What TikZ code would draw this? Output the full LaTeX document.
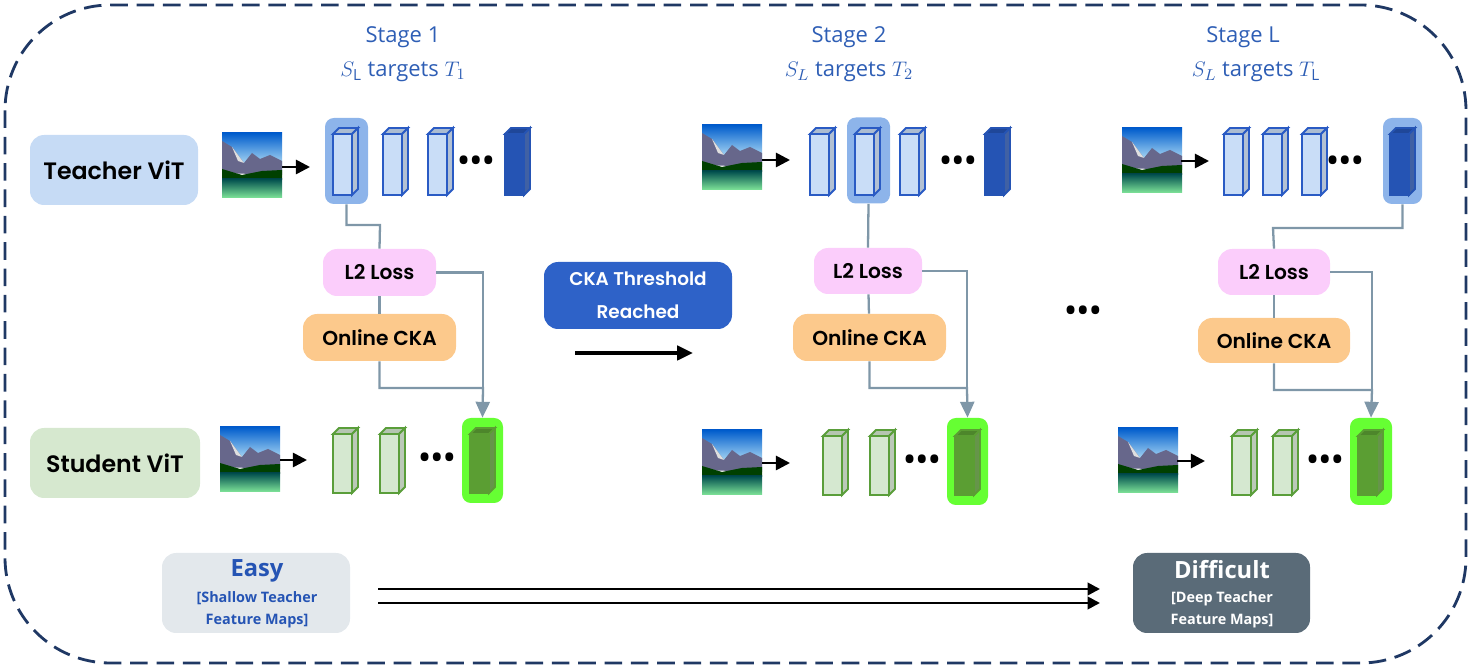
\documentclass[tikz,border=0pt]{standalone}
\usepackage{fontspec}
\setmainfont{Open Sans}
\newfontfamily\popb{Poppins}[UprightFont=* SemiBold]
\usetikzlibrary{arrows.meta}
\definecolor{navy}{HTML}{1F3864}
\definecolor{ttl}{HTML}{2E5EB5}
\definecolor{conn}{HTML}{7F97A8}
\definecolor{lb}{HTML}{C9DDF7}
\definecolor{lbd}{HTML}{2A5BC4}
\definecolor{db}{HTML}{2554B4}
\definecolor{lg}{HTML}{D5E8D0}
\definecolor{lgd}{HTML}{5A9E3A}
\definecolor{dg}{HTML}{5B9E33}
\definecolor{tvb}{HTML}{C6DBF5}
\definecolor{svb}{HTML}{D6E8CF}
\definecolor{easyb}{HTML}{E3E8EC}
\definecolor{diffb}{HTML}{5A6B78}
\definecolor{hlb}{HTML}{8DB4EA}
\definecolor{hlg}{HTML}{66FF33}
\definecolor{pinkb}{HTML}{FBCDFB}
\definecolor{orb}{HTML}{FCC98C}
\definecolor{ckab}{HTML}{2E62C8}
\newcommand\cuboid[6]{%
 \fill[#5,draw=#6,line width=1.1pt] (#1,{#2+6}) rectangle ({#1+#3-6},{#2+#4});
 \fill[#5!85!black,draw=#6,line width=1.1pt] (#1,{#2+6})--({#1+6},#2)--({#1+#3},#2)--({#1+#3-6},{#2+6})--cycle;
 \fill[#5!70!gray,draw=#6,line width=1.1pt] ({#1+#3-6},{#2+6})--({#1+#3},#2)--({#1+#3},{#2+#4-6})--({#1+#3-6},{#2+#4})--cycle;}
\newcommand\tcube[2]{\cuboid{#1}{#2}{25}{67}{lb}{lbd}}
\newcommand\dcube[2]{\cuboid{#1}{#2}{25}{67}{db}{db}}
\newcommand\gcube[2]{\cuboid{#1}{#2}{25}{65}{lg}{lgd}}
\newcommand\ggcube[2]{\cuboid{#1}{#2}{25}{65}{dg}{dg}}
\newcommand\landscape[2]{%
 \begin{scope}[shift={(#1,#2)}]
 \clip (0,0) rectangle (60,65);
 \shade[top color=blue!55!cyan!80!black,bottom color=blue!10!cyan!15] (0,0) rectangle (60,40);
 \fill[gray!60!blue!50!black!70] (0,40)--(0,8)--(10,14)--(22,30)--(30,20)--(38,26)--(48,22)--(60,28)--(60,42)--cycle;
 \fill[white!75!gray] (10,14)--(22,30)--(16,28)--cycle;
 \fill[green!25!black] (0,47)--(0,36)--(20,42)--(40,38)--(60,37)--(60,47)--cycle;
 \shade[top color=teal!60!black,bottom color=teal!40!green!50] (0,46) rectangle (60,65);
 \end{scope}}
\tikzset{
 conn/.style={draw=conn,line width=1.3pt},
 carr/.style={conn,-{Triangle[length=9pt,width=8pt]}},
 bx/.style={rounded corners=8pt,font=\popb\fontsize{11.5}{13}\selectfont,inner sep=0pt},
 ttl/.style={text=ttl,font=\fontsize{12.5}{14}\selectfont},
 blk/.style={line width=1.5pt,-{Triangle[length=8pt,width=8pt]}},
 dts/.style={font=\bfseries\fontsize{16}{16}\selectfont,inner sep=0pt},
}
\newcommand\dd{•\kern1pt•\kern1pt•}
\begin{document}
\begin{tikzpicture}[x=0.02cm,y=-0.02cm]
\useasboundingbox (0,0) rectangle (1471,668);
\draw[navy,line width=1.6pt,dash pattern=on 10pt off 5pt,rounded corners=60] (5,5) rectangle (1466,663);
% titles
\node[ttl] (s1) at (403,37) {Stage 1};
\node[ttl] (s1b) at (403,72) {$S_{\mathrm{L}}$ targets $T_1$};
\node[ttl] (s2) at (849,37) {Stage 2};
\node[ttl] (s2b) at (849,72) {$S_L$ targets $T_2$};
\node[ttl] (s3) at (1243,37) {Stage L};
\node[ttl] (s3b) at (1256,72) {$S_L$ targets $T_{\mathrm{L}}$};
% left labels
\node[bx,fill=tvb,minimum width=168*0.02cm,minimum height=70*0.02cm,font=\popb\fontsize{13.5}{15}\selectfont] (tv) at (114,170) {Teacher ViT};
\node[bx,fill=svb,minimum width=170*0.02cm,minimum height=70*0.02cm,font=\popb\fontsize{13.5}{15}\selectfont] (sv) at (115,463) {Student ViT};
% ===== stage 1
\landscape{222}{133}\coordinate (i1) at (282,167);
\node[fill=hlb,rounded corners=5pt,minimum width=43*0.02cm,minimum height=86*0.02cm] (h1) at (346.5,161) {};
\tcube{333}{128}\tcube{383}{128}\tcube{428}{128}\dcube{505}{128}
\node[dts] (d1) at (476,163) {\dd};
\draw[blk] (i1) -- (310,167);
\landscape{220}{427}\coordinate (j1) at (280,460);
\gcube{333}{428}\gcube{380}{428}
\node[dts] (e1) at (437,460) {\dd};
\node[fill=hlg,rounded corners=5pt,minimum width=41*0.02cm,minimum height=85*0.02cm] (g1) at (482.5,460.5) {};
\ggcube{470}{428}
\draw[blk] (j1) -- (307,460);
\node[bx,fill=pinkb,minimum width=113*0.02cm,minimum height=47*0.02cm] (l1) at (379.5,272.5) {L2 Loss};
\node[bx,fill=orb,minimum width=153*0.02cm,minimum height=47*0.02cm] (o1) at (379.5,337.5) {Online CKA};
\draw[conn] (h1.south) |- (380,225) -- (l1.north);
\draw[conn] (l1) -- (o1);
\draw[conn] (l1.east) -| (483,388);
\draw[carr] (o1.south) |- (483,388) -- (g1.north);
% middle
\node[bx,fill=ckab,text=white,align=center,minimum width=188*0.02cm,minimum height=67*0.02cm,font=\popb\fontsize{10.5}{19}\selectfont] (cka) at (638,295.5) {CKA Threshold\\Reached};
\coordinate (m1) at (575,353);\coordinate (m2) at (693,353);
\draw[line width=2.2pt,-{Triangle[length=9pt,width=8pt]}] (m1) -- (m2);
% ===== stage 2
\landscape{702}{125}\coordinate (i2) at (762,160);
\draw[blk] (i2) -- (790,160);
\node[fill=hlb,rounded corners=5pt,minimum width=43*0.02cm,minimum height=86*0.02cm] (h2) at (868.5,160.5) {};
\tcube{810}{128}\tcube{855}{128}\tcube{900}{128}\dcube{985}{128}
\node[dts] (d2) at (958,163) {\dd};
\landscape{702}{430}\coordinate (j2) at (762,463);
\draw[blk] (j2) -- (790,463);
\gcube{823}{430}\gcube{870}{430}
\node[dts] (e2) at (922,462) {\dd};
\node[fill=hlg,rounded corners=5pt,minimum width=41*0.02cm,minimum height=87*0.02cm] (g2) at (967.5,461.5) {};
\ggcube{955}{430}
\node[bx,fill=pinkb,minimum width=108*0.02cm,minimum height=46*0.02cm] (l2) at (868,271) {L2 Loss};
\node[bx,fill=orb,minimum width=153*0.02cm,minimum height=47*0.02cm] (o2) at (869.5,337.5) {Online CKA};
\draw[conn] (h2.south) -- (l2.north);
\draw[conn] (l2) -- (o2);
\draw[conn] (l2.east) -| (967,388);
\draw[carr] (o2.south) |- (967,388) -- (g2.north);
\node[dts] (mid) at (1083,313) {\dd};
% ===== stage L
\landscape{1122}{128}\coordinate (i3) at (1181,161);
\draw[blk] (i3) -- (1209,161);
\tcube{1224}{128}\tcube{1263}{128}\tcube{1302}{128}
\node[dts] (d3) at (1345,163) {\dd};
\node[fill=hlb,rounded corners=5pt,minimum width=39*0.02cm,minimum height=86*0.02cm] (h3) at (1402.5,161) {};
\dcube{1390}{128}
\landscape{1118}{428}\coordinate (j3) at (1177,461);
\draw[blk] (j3) -- (1205,461);
\gcube{1232}{430}\gcube{1273}{430}
\node[dts] (e3) at (1325,462) {\dd};
\node[fill=hlg,rounded corners=5pt,minimum width=42*0.02cm,minimum height=87*0.02cm] (g3) at (1371,461.5) {};
\ggcube{1358}{430}
\node[bx,fill=pinkb,minimum width=112*0.02cm,minimum height=46*0.02cm] (l3) at (1274,272) {L2 Loss};
\node[bx,fill=orb,minimum width=152*0.02cm,minimum height=45*0.02cm] (o3) at (1274,340.5) {Online CKA};
\draw[conn] (h3.south) |- (1273,228) -- (l3.north);
\draw[conn] (l3) -- (o3);
\draw[conn] (l3.east) -| (1372,390);
\draw[carr] (o3.south) |- (1372,390) -- (g3.north);
% bottom
\node[bx,fill=easyb,minimum width=188*0.02cm,minimum height=80*0.02cm] (easy) at (256,593) {};
\node[text=db,font=\bfseries\fontsize{13.5}{15}\selectfont] (et) at (257,571) {Easy};
\node[text=db,align=center,font=\bfseries\fontsize{8.2}{12.5}\selectfont] (es) at (257,610) {[Shallow Teacher\\Feature Maps]};
\node[bx,fill=diffb,minimum width=177*0.02cm,minimum height=80*0.02cm] (diff) at (1221.5,593) {};
\node[text=white,font=\bfseries\fontsize{13.5}{15}\selectfont] (dt) at (1222,570) {Difficult};
\node[text=white,align=center,font=\bfseries\fontsize{8.2}{12.5}\selectfont] (ds) at (1222,610) {[Deep Teacher\\Feature Maps]};
\draw[line width=1.5pt,-{Triangle[length=7pt,width=7pt]}] (easy.east|-0,589) ++(28,0) -- (1100,589);
\draw[line width=1.5pt,-{Triangle[length=7pt,width=7pt]}] (easy.east|-0,603) ++(28,0) -- (1100,603);
\end{tikzpicture}
\end{document}
